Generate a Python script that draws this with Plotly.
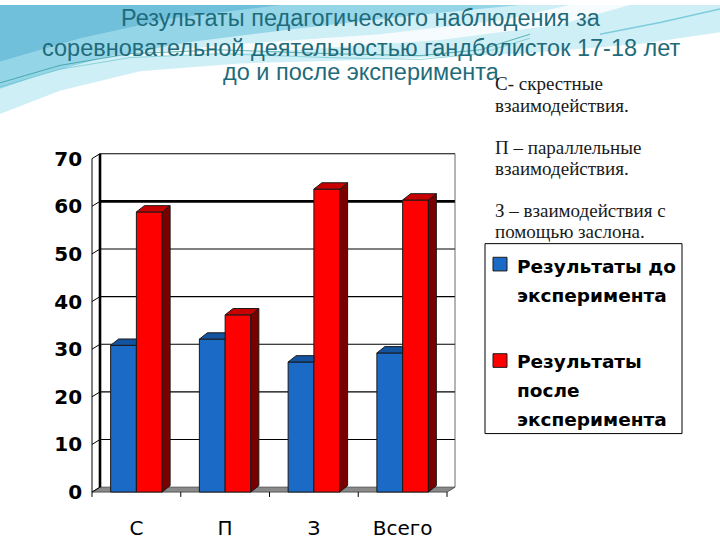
import plotly.graph_objects as go

# ---------------- data ----------------
categories = ["С", "П", "З", "Всего"]
before_vals = [30.8, 32.1, 27.3, 29.2]
after_vals = [58.8, 37.2, 63.6, 61.3]
series_before = ["Результаты до", "эксперимента"]
series_after = ["Результаты", "после", "эксперимента"]
y_ticks = [0, 10, 20, 30, 40, 50, 60, 70]
title_lines = ["Результаты педагогического наблюдения за",
               "соревновательной деятельностью гандболисток 17-18 лет",
               "до и после эксперимента"]
notes = ["С- скрестные", "взаимодействия.", "П – параллельные", "взаимодействия.",
         "З – взаимодействия с", "помощью заслона."]

# ---------------- geometry ----------------
W, H = 720, 540
PPX = 88.75      # px per category
PPY = 4.89       # px per value unit
X0PX = 92.0      # pixel of x=-0.5 (front)
Y0PX = 500.0     # pixel of y=0 (front)
xr = [-0.6, 3.62]
yr = [-1.5, 71.5]


def xpx(v):
    return X0PX + (v + 0.5) * PPX


def ypx(v):
    return Y0PX - v * PPY


def P(x, y):
    return x / W, 1 - y / H


xdom = [xpx(xr[0]) / W, xpx(xr[1]) / W]
ydom = [(H - ypx(yr[0])) / H, (H - ypx(yr[1])) / H]

FDX = 8 / PPX    # floor depth
FDY = 5 / PPY
BDX = 8 / PPX    # bar depth
BDY = 6.5 / PPY
BW = 0.29

BLUE = "#1a6ac6"
BLUE_TOP = "#14539f"
RED = "#ff0000"
RED_TOP = "#c80000"
RED_SIDE = "#7a0000"
EDGE = "#1a1a1a"

pos = list(range(len(categories)))

fig = go.Figure()

# front faces
fig.add_trace(go.Bar(x=pos, y=before_vals, width=BW, offset=-BW,
                     marker=dict(color=BLUE, line=dict(color=EDGE, width=1)),
                     showlegend=False, hoverinfo="skip"))
fig.add_trace(go.Bar(x=pos, y=after_vals, width=BW, offset=0,
                     marker=dict(color=RED, line=dict(color=EDGE, width=1)),
                     showlegend=False, hoverinfo="skip"))


def poly_trace(xs, ys, color):
    return go.Scatter(x=xs, y=ys, mode="lines", fill="toself", fillcolor=color,
                      line=dict(color=EDGE, width=1), showlegend=False,
                      hoverinfo="skip")


# blue tops (truncated where the red bar hides them)
bx, by = [], []
for i, v in zip(pos, before_vals):
    x0, x1 = i - BW, i
    bx += [x0, x0 + BDX, x1, x1, x0, None]
    by += [v, v + BDY, v + BDY, v, v, None]
fig.add_trace(poly_trace(bx, by, BLUE_TOP))

# red sides
sx, sy = [], []
for i, v in zip(pos, after_vals):
    x1 = i + BW
    sx += [x1, x1 + BDX, x1 + BDX, x1, x1, None]
    sy += [0, BDY, v + BDY, v, 0, None]
fig.add_trace(poly_trace(sx, sy, RED_SIDE))

# red tops
tx, ty = [], []
for i, v in zip(pos, after_vals):
    x0, x1 = i, i + BW
    tx += [x0, x0 + BDX, x1 + BDX, x1, x0, None]
    ty += [v, v + BDY, v + BDY, v, v, None]
fig.add_trace(poly_trace(tx, ty, RED_TOP))

shapes = []


def path(points, close=True):
    s = "M " + " L ".join(f"{P(x, y)[0]:.4f},{P(x, y)[1]:.4f}" for x, y in points)
    return s + (" Z" if close else "")


def bg(points, color):
    shapes.append(dict(type="path", xref="paper", yref="paper", layer="below",
                       path=path(points), fillcolor=color, line=dict(width=0)))


# background decoration (top waves)
bg([(0, 0), (720, 0), (720, 28), (640, 40), (520, 50), (380, 56), (240, 60),
    (140, 68), (60, 88), (0, 112)], "rgba(175,228,242,0.6)")
bg([(0, 0), (520, 0), (420, 10), (300, 24), (190, 38), (100, 55), (40, 72), (0, 86)],
   "rgba(110,195,222,0.6)")
bg([(0, 0), (280, 0), (170, 14), (80, 34), (0, 58)], "rgba(75,170,205,0.5)")
bg([(110, 52), (240, 40), (380, 30), (500, 16), (570, 0), (630, 0), (560, 20),
    (440, 36), (300, 46), (180, 52)], "rgba(255,255,255,0.8)")
bg([(300, 60), (480, 54), (620, 44), (720, 30), (720, 60)], "rgba(255,255,255,0.6)")

for off, col in [(0, "rgba(40,150,150,0.7)"), (4, "rgba(90,190,200,0.6)")]:
    shapes.append(dict(type="path", xref="paper", yref="paper", layer="below",
                       path=path([(0, 80 + off), (60, 62 + off), (130, 50 + off),
                                  (220, 46 + off), (330, 50 + off), (420, 52 + off),
                                  (480, 46 + off), (530, 30 + off)], close=False),
                       line=dict(color=col, width=1)))
shapes.append(dict(type="path", xref="paper", yref="paper", layer="below",
                   path=path([(600, 30), (660, 18), (720, 4)], close=False),
                   line=dict(color="rgba(90,190,210,0.7)", width=1.5)))

# floor
shapes.append(dict(type="path", xref="x", yref="y", layer="below",
                   path=(f"M -0.5,0 L 3.5,0 L {3.5 + FDX},{FDY} L {-0.5 + FDX},{FDY} Z"),
                   fillcolor="#8a8a8a", line=dict(color="#555555", width=1)))
# back-wall gridlines
for v in y_ticks[1:]:
    shapes.append(dict(type="line", xref="x", yref="y", layer="below",
                       x0=-0.5 + FDX, x1=3.5 + FDX, y0=v + FDY, y1=v + FDY,
                       line=dict(color="black", width=2.6 if v == 60 else 1.1)))
# walls
shapes.append(dict(type="line", xref="x", yref="y", layer="below",
                   x0=-0.5 + FDX, x1=-0.5 + FDX, y0=FDY, y1=y_ticks[-1] + FDY,
                   line=dict(color="black", width=2.6)))
shapes.append(dict(type="line", xref="x", yref="y", layer="below",
                   x0=3.5 + FDX, x1=3.5 + FDX, y0=FDY, y1=y_ticks[-1] + FDY,
                   line=dict(color="#444444", width=0.8)))
shapes.append(dict(type="line", xref="x", yref="y", layer="below",
                   x0=-0.5, x1=-0.5, y0=0, y1=y_ticks[-1],
                   line=dict(color="black", width=1)))
# diagonal y ticks
for v in y_ticks:
    shapes.append(dict(type="line", xref="x", yref="y", layer="below",
                       x0=-0.5, x1=-0.5 + FDX, y0=v, y1=v + FDY,
                       line=dict(color="black", width=1)))
# x boundary ticks
for k in range(len(categories) + 1):
    shapes.append(dict(type="line", xref="x", yref="y", layer="below",
                       x0=k - 0.5, x1=k - 0.5, y0=0, y1=-5 / PPY,
                       line=dict(color="black", width=1)))

# legend box
lx0, ly0 = P(485, 245)
lx1, ly1 = P(682, 440)
shapes.append(dict(type="rect", xref="paper", yref="paper", x0=lx0, y0=ly0, x1=lx1, y1=ly1,
                   fillcolor="white", line=dict(color="black", width=1)))
for cy, col in [(266, BLUE), (365, RED)]:
    a = P(493, cy - 7)
    b = P(507, cy + 7)
    shapes.append(dict(type="rect", xref="paper", yref="paper", x0=a[0], y0=a[1],
                       x1=b[0], y1=b[1], fillcolor=col, line=dict(color=EDGE, width=1)))

annotations = []
# title
for txt, cy in zip(title_lines, [13, 44, 69]):
    x, y = P(361, cy)
    annotations.append(dict(text=txt, x=x, y=y, xref="paper", yref="paper",
                            xanchor="center", yanchor="middle", showarrow=False,
                            font=dict(family="Liberation Sans, Arial", size=23.5,
                                      color="#1f6b7a")))
# notes
for txt, cy in zip(notes, [81, 103, 146, 168, 211, 233]):
    x, y = P(493, cy)
    annotations.append(dict(text=txt, x=x, y=y, xref="paper", yref="paper",
                            xanchor="left", yanchor="middle", showarrow=False,
                            font=dict(family="Liberation Serif, serif", size=19,
                                      color="#1a1a1a")))
# legend text
for txt, cy in zip(series_before + series_after, [268, 298, 366, 396, 426]):
    x, y = P(515, cy)
    annotations.append(dict(text="<b>" + txt + "</b>", x=x, y=y, xref="paper", yref="paper",
                            xanchor="left", yanchor="middle", showarrow=False,
                            font=dict(family="DejaVu Sans", size=18.5, color="black")))

fig.update_layout(
    width=W, height=H,
    margin=dict(l=0, r=0, t=0, b=0),
    paper_bgcolor="white",
    plot_bgcolor="rgba(0,0,0,0)",
    barmode="overlay",
    showlegend=False,
    shapes=shapes,
    annotations=annotations,
    xaxis=dict(domain=xdom, range=xr, tickmode="array", tickvals=pos,
               ticktext=categories, showgrid=False, zeroline=False, showline=False,
               ticks="", ticklabelstandoff=15,
               tickfont=dict(family="DejaVu Sans", size=20, color="black")),
    yaxis=dict(domain=ydom, range=yr, tickmode="array", tickvals=y_ticks,
               ticktext=[f"<b>{t}</b>" for t in y_ticks], showgrid=False,
               zeroline=False, showline=False, ticks="", ticklabelstandoff=0,
               tickfont=dict(family="DejaVu Sans", size=20, color="black")),
)

fig.write_html("out.html")
